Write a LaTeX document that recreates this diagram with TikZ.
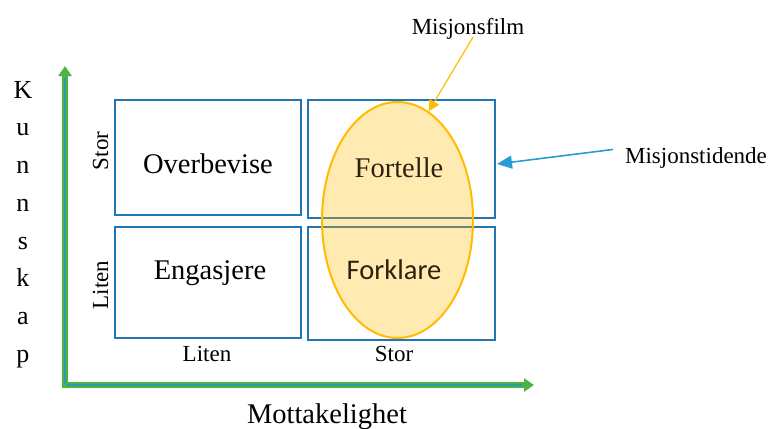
\documentclass[tikz,border=0pt]{standalone}
\usepackage{fontspec}
\setmainfont{Liberation Serif}
\newfontfamily\calib{Carlito}
\usetikzlibrary{arrows.meta,shapes.geometric,calc}

\definecolor{axisgreen}{RGB}{78,178,72}
\definecolor{axisteal}{RGB}{38,160,160}
\definecolor{boxblue}{RGB}{34,116,178}
\definecolor{arrowblue}{RGB}{38,156,214}
\definecolor{filmorange}{RGB}{255,188,0}
\definecolor{inktxt}{RGB}{45,32,15}

\tikzset{
  quad/.style={draw=boxblue, line width=2.4pt, rectangle, inner sep=0pt, outer sep=0pt},
  bigtxt/.style={inner sep=0pt, anchor=base, font=\fontsize{28.5}{30}\selectfont},
  midtxt/.style={inner sep=0pt, anchor=base, font=\fontsize{23}{26}\selectfont},
}

\begin{document}
\begin{tikzpicture}[x=1pt,y=-1pt]
\useasboundingbox (0,0) rectangle (770,428);

% axes
\coordinate (origin) at (65,385);
\coordinate (ytop) at (65,66);
\coordinate (xend) at (534,385);
\draw[axisgreen, line width=6pt, -{Triangle[length=10pt,width=13pt]}] (origin) -- (ytop);
\draw[axisgreen, line width=6pt, -{Triangle[length=10pt,width=13pt]}] ([xshift=-3pt]origin) -- (xend);
\draw[axisteal, line width=1.8pt] (65,384) -- (65,78);
\draw[axisteal, line width=1.8pt] (66,385) -- (522,385);

% quadrants
\node[quad, minimum width=186pt, minimum height=115pt] (tl) at (208,157.5) {};
\node[quad, minimum width=187pt, minimum height=118pt] (tr) at (401.5,159) {};
\node[quad, minimum width=186pt, minimum height=111pt] (bl) at (208,282.5) {};
\node[quad, minimum width=187pt, minimum height=113pt] (br) at (401.5,283.5) {};

% film ellipse over the right column
\node[ellipse, draw=filmorange, line width=2pt, fill=filmorange, fill opacity=0.3,
      minimum width=151pt, minimum height=236pt, inner sep=0pt] (film) at (397.5,220) {};

\node[bigtxt] (overbevise) at (208,173) {Overbevise};
\node[bigtxt] (engasjere) at (210,279) {Engasjere};
\node[bigtxt, text=inktxt] (fortelle) at (399,177) {Fortelle};
\node[inner sep=0pt, anchor=base, text=inktxt, font=\calib\fontsize{28.5}{30}\selectfont] (forklare) at (394,279) {Forklare};

% axis labels
\node[midtxt, rotate=90] (ystor) at (108,151) {Stor};
\node[midtxt, rotate=90] (yliten) at (108,285) {Liten};
\node[midtxt] (xliten) at (207,361) {Liten};
\node[midtxt] (xstor) at (394,361) {Stor};
\node[bigtxt] (mottak) at (327,423) {Mottakelighet};
\node[inner sep=0pt, anchor=north, align=center,
      font=\fontsize{26}{37.7}\selectfont] (kunnskap) at (23,81)
      {K\\u\\n\\n\\s\\k\\a\\p};

% media labels and pointers
\node[midtxt] (mfilm) at (468,35) {Misjonsfilm};
\node[midtxt] (mtid) at (696,163) {Misjonstidende};
\draw[filmorange, line width=1.2pt, -{Triangle[length=11pt,width=11pt]}]
  ($(mfilm.south)+(5,-3)$) -- (film.74);
\draw[arrowblue, line width=1.6pt, -{Triangle[length=15pt,width=13pt]}]
  ($(mtid.west)+(-12,-8)$) -- ($(tr.east)+(2,5)$);
\end{tikzpicture}
\end{document}
